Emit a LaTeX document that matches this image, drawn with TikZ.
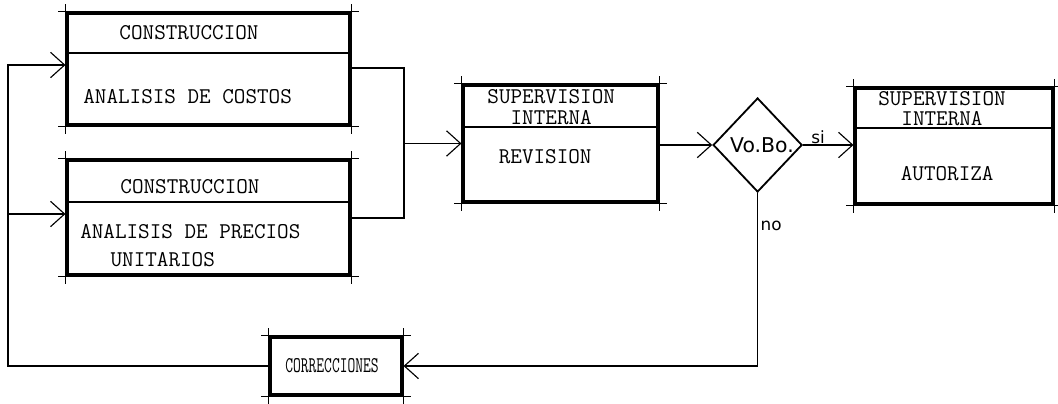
\documentclass[tikz,border=0pt]{standalone}
\usepackage{fontspec}
\usepackage{graphicx}
\newfontfamily\rotulo{DejaVu Sans}
\usetikzlibrary{arrows.meta,shapes.geometric,calc}

\begin{document}
\begin{tikzpicture}[
    caja/.style={draw, line width=2.2pt, inner sep=0pt},
    txt/.style={font=\ttfamily\fontsize{16}{14.5}\selectfont, align=center, inner sep=0pt},
    etiq/.style={font=\rotulo\fontsize{12}{12}\selectfont, inner sep=1pt},
    linea/.style={line width=0.8pt},
    arr/.style={-{Straight Barb[length=10pt,width=18pt,line width=0.8pt]}, line width=0.8pt}
]
\useasboundingbox (0,0) rectangle (26.45,10.075);

% cajas
\node[caja, minimum width=7.075cm, minimum height=2.8cm] (cc) at (5.2125,8.35) {};
\node[caja, minimum width=7.075cm, minimum height=2.875cm] (pu) at (5.2125,4.6375) {};
\node[caja, minimum width=4.875cm, minimum height=2.925cm] (rev) at (14.0125,6.4875) {};
\node[caja, minimum width=4.95cm, minimum height=2.9cm] (aut) at (23.85,6.425) {};
\node[caja, minimum width=3.3cm, minimum height=1.45cm] (corr) at (8.4,0.925) {};
\node[draw, diamond, line width=1.3pt, minimum width=2.225cm, minimum height=2.35cm, inner sep=0pt] (vobo) at (18.94,6.45) {};

% lineas de marco prolongadas
\foreach \b in {cc,pu,rev,aut,corr}{
  \draw[thin] ([xshift=-5pt]\b.north west) -- ([xshift=5pt]\b.north east);
  \draw[thin] ([xshift=-5pt]\b.south west) -- ([xshift=5pt]\b.south east);
  \draw[thin] ([yshift=5pt]\b.north west) -- ([yshift=-5pt]\b.south west);
  \draw[thin] ([yshift=5pt]\b.north east) -- ([yshift=-5pt]\b.south east);
}

% divisiones
\draw[linea] (cc.west |- 0,8.75) -- (cc.east |- 0,8.75);
\draw[linea] (pu.west |- 0,5.025) -- (pu.east |- 0,5.025);
\draw[linea] (rev.west |- 0,6.9) -- (rev.east |- 0,6.9);
\draw[linea] (aut.west |- 0,6.875) -- (aut.east |- 0,6.875);

% textos
\node[txt] (t1) at (4.725,9.25) {CONSTRUCCION};
\node[txt] (t2) at (4.69,7.65) {ANALISIS DE COSTOS};
\node[txt] (t3) at (4.75,5.4) {CONSTRUCCION};
\node[txt, font=\ttfamily\fontsize{16}{20}\selectfont, align=left, anchor=west] (t4) at (2.0,3.925)
    {ANALISIS DE PRECIOS\\\hspace*{1.35em}UNITARIOS};
\node[txt] (t5) at (13.78,7.4) {SUPERVISION\\INTERNA};
\node[txt] (t6) at (13.63,6.15) {REVISION};
\node[txt] (t7) at (23.55,7.36) {SUPERVISION\\INTERNA};
\node[txt] (t8) at (23.68,5.725) {AUTORIZA};
\node[txt] (t9) at (8.3,0.925) {\scalebox{0.67}[1]{CORRECCIONES}};
\node[etiq, font=\rotulo\fontsize{14.5}{14.5}\selectfont] (vb) at (19.05,6.45) {Vo.Bo.};
\node[etiq] (si) at (20.45,6.65) {si};
\node[etiq] (no) at (19.28,4.425) {no};

% conectores
\coordinate (l1) at (0.2,8.45);
\coordinate (l2) at (0.2,4.725);
\draw[arr] (corr.west) -| (l1) -- (l1 -| cc.west);
\draw[arr] (l2) -- (l2 -| pu.west);
\coordinate (m1) at (10.1,8.375);
\coordinate (m2) at (10.1,4.625);
\draw[linea] (m1 -| cc.east) -- (m1) -- (m2) -- (m2 -| pu.east);
\draw[arr] (m1 |- rev.west) -- (rev.west);
\draw[arr] (rev.east |- vobo.west) -- (vobo.west);
\draw[arr] (vobo.east) -- (vobo.east -| aut.west);
\draw[arr] (vobo.south) |- (corr.east);
\end{tikzpicture}
\end{document}
